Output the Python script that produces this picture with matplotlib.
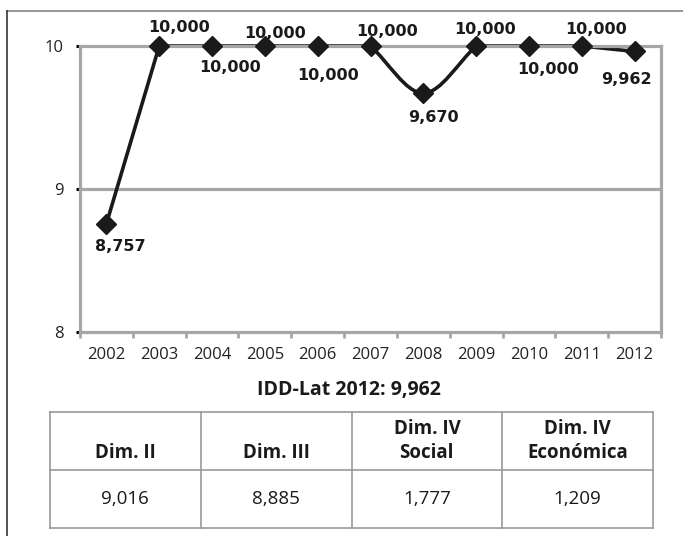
import numpy as np
import matplotlib
matplotlib.use("Agg")
import matplotlib.pyplot as plt
from matplotlib.path import Path
from matplotlib.patches import PathPatch
from matplotlib.lines import Line2D

# Datos
years = ["2002", "2003", "2004", "2005", "2006", "2007", "2008", "2009", "2010", "2011", "2012"]
idd = [8.757, 10.000, 10.000, 10.000, 10.000, 10.000, 9.670, 10.000, 10.000, 10.000, 9.962]
dims = ["Dim. II", "Dim. III", "Dim. IV\nSocial", "Dim. IV\nEconómica"]
dim_vals = ["9,016", "8,885", "1,777", "1,209"]
titulo = "IDD-Lat 2012: 9,962"

# desplazamiento de las etiquetas (pixeles)
lab_off = [(14, -23), (20, 18), (18, -21), (10, 12), (10, -30), (17, 14),
           (10, -24), (9, 16), (19, -24), (14, 16), (-8, -28)]

gris = "#a6a6a6"
fuente = "Open Sans"

fig = plt.figure(figsize=(6.83, 5.36), dpi=100)
ax = fig.add_axes([80 / 683, 1 - 332 / 536, 581 / 683, 286 / 536])

x = np.arange(len(years))
y = np.array(idd)

# linea suavizada (bezier); tramos planos rectos
pts = np.column_stack([x, y])
n = len(pts)
plano = [pts[i, 1] == pts[i + 1, 1] for i in range(n - 1)]
tang = np.zeros_like(pts)
for i in range(n):
    ia = i - 1 if (i > 0 and not plano[i - 1]) else i
    ib = i + 1 if (i < n - 1 and not plano[i]) else i
    if ia == ib:
        continue
    tang[i] = (pts[ib] - pts[ia]) / (ib - ia)
verts = [pts[0]]
codes = [Path.MOVETO]
for i in range(n - 1):
    if plano[i]:
        verts += [pts[i + 1]]
        codes += [Path.LINETO]
        continue
    verts += [pts[i] + tang[i] / 3, pts[i + 1] - tang[i + 1] / 3, pts[i + 1]]
    codes += [Path.CURVE4] * 3
ax.add_patch(PathPatch(Path(verts, codes), fill=False, edgecolor="#1a1a1a",
                       lw=2.6, zorder=3, clip_on=False, capstyle="round", joinstyle="round"))
ax.plot(x, y, linestyle="none", marker="D", ms=10.5, color="#1a1a1a", zorder=5, clip_on=False)

for xi, yi, (dx, dy) in zip(x, y, lab_off):
    ax.annotate(f"{yi:.3f}".replace(".", ","), (xi, yi), xytext=(dx, dy),
                textcoords="offset pixels", ha="center", va="center",
                fontsize=11.5, fontweight="bold", family="DejaVu Sans",
                color="#1a1a1a", zorder=6)

ax.set_xlim(-0.5, len(years) - 0.5)
ax.set_ylim(8, 10)
ax.set_yticks([8, 9, 10])
ax.set_yticklabels(["8", "9", "10"], fontsize=12, family=fuente, color="#222222")
ax.set_xticks(x)
ax.set_xticklabels(years, fontsize=12, family=fuente, color="#222222")
ax.set_xticks(np.arange(-0.5, len(years)), minor=True)
ax.tick_params(axis="x", which="major", length=0, pad=11)
ax.tick_params(axis="x", which="minor", length=4, width=2, color=gris, direction="out")
ax.tick_params(axis="y", length=3, width=2.2, color="black", pad=9)

ax.axhline(9, color=gris, lw=2.3, zorder=1)
ax.axhline(10, color=gris, lw=2.3, zorder=4, clip_on=False)
for s in ["left", "bottom", "right"]:
    ax.spines[s].set_color(gris)
    ax.spines[s].set_linewidth(2.3)
ax.spines["top"].set_visible(False)

fig.text(349 / 683, 1 - 390 / 536, titulo, ha="center", va="center",
         fontsize=14, fontweight="bold", family=fuente, color="#1a1a1a")

# tabla
tx = fig.add_axes([50 / 683, 1 - 528 / 536, 603 / 683, 116 / 536])
tx.set_xlim(0, 4)
tx.set_ylim(0, 2)
tx.axis("off")
for k in range(5):
    tx.plot([k, k], [0, 2], color="#999999", lw=1.2, clip_on=False)
for k in range(3):
    tx.plot([0, 4], [k, k], color="#999999", lw=1.2, clip_on=False)
for i, (d, v) in enumerate(zip(dims, dim_vals)):
    tx.text(i + 0.5, 1.12, d, ha="center", va="bottom", fontsize=13.5,
            fontweight="bold", family=fuente, color="#1a1a1a", linespacing=1.3)
    tx.text(i + 0.5, 0.5, v, ha="center", va="center", fontsize=13.5,
            family=fuente, color="#1a1a1a")

# marco
fig.add_artist(Line2D([7 / 683, 1], [1 - 11 / 536] * 2, color="#999999", lw=1.5,
                      transform=fig.transFigure))
fig.add_artist(Line2D([7 / 683] * 2, [0, 1 - 11 / 536], color="#333333", lw=1.2,
                      transform=fig.transFigure))

fig.savefig("out.png", dpi=100)
